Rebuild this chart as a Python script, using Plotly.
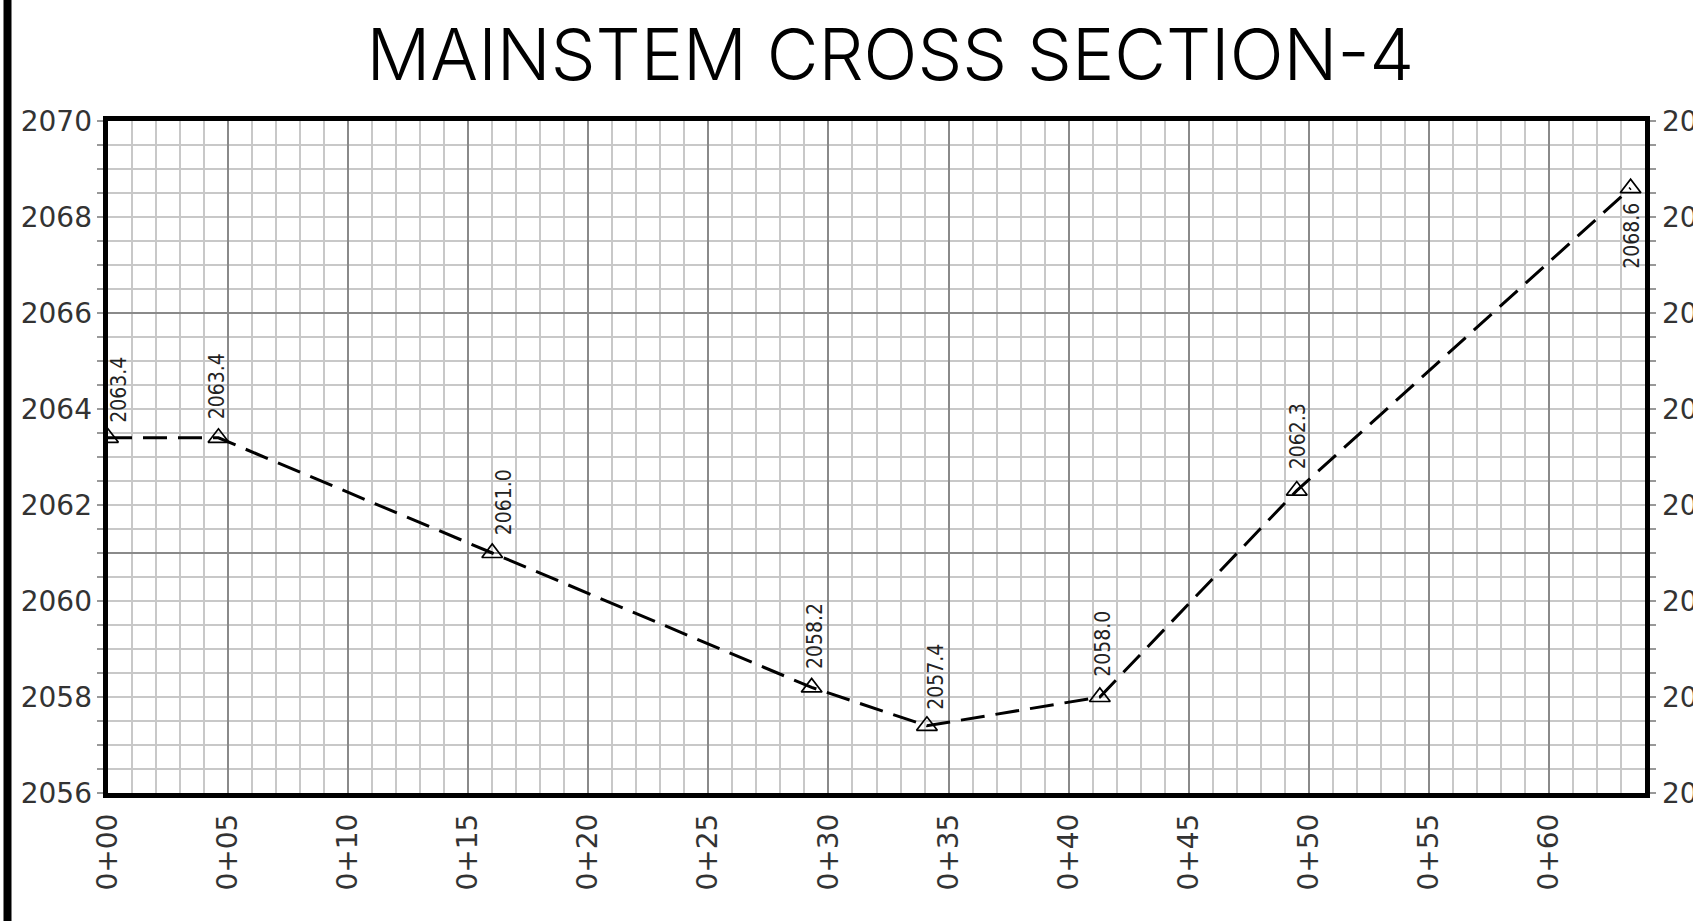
import plotly.graph_objects as go

# ---- data ----
stations = [0.0, 4.6, 16.0, 29.3, 34.1, 41.3, 49.5, 63.4]
elevations = [2063.4, 2063.4, 2061.0, 2058.2, 2057.4, 2058.0, 2062.3, 2068.6]

x_tickvals = list(range(0, 61, 5))
x_ticktext = ["0+%02d" % v for v in x_tickvals]
y_tickvals = list(range(2056, 2071, 2))
y_ticktext = [str(v) for v in y_tickvals]
y_major_grid = [2061, 2066]
X_RANGE = [0, 64]
Y_RANGE = [2056, 2070]

title_text = "MAINSTEM CROSS SECTION-4"

# label placement (pixel offsets, style only)
label_xshift = [11, -2, 12, 4, 9, 3, 1, 2]
label_yshift = [13, 17, 16, 16, 14, 18, 19, -13]

TICKFONT = dict(family="DejaVu Sans, Liberation Sans, sans-serif", size=28, color="#333333")
LABELFONT = dict(family="DejaVu Sans Condensed, Liberation Sans Narrow, DejaVu Sans, sans-serif", size=21, color="#222222")
MINOR_GRID = "#c8c8c8"
MAJOR_GRID = "#8a8a8a"

fig = go.Figure()
fig.add_trace(go.Scatter(
    x=stations, y=elevations, mode="lines+markers",
    line=dict(color="black", width=3, dash="24px,11px"),
    marker=dict(symbol="triangle-up-open", size=18, color="black", line=dict(width=1.7, color="black")),
    showlegend=False, hoverinfo="skip",
))

annotations = []
for x, y, dx, dy in zip(stations, elevations, label_xshift, label_yshift):
    annotations.append(dict(
        x=x, y=y, xref="x", yref="y", text="%.1f" % y, showarrow=False,
        textangle=-90, font=LABELFONT,
        xanchor="center", yanchor="top" if dy < 0 else "bottom",
        xshift=dx, yshift=dy,
    ))

fig.update_layout(
    width=1693, height=921,
    template="none",
    paper_bgcolor="white", plot_bgcolor="white",
    margin=dict(l=108, r=48, t=121, b=128, autoexpand=False),
    title=dict(text=title_text, x=0.509, xref="paper", xanchor="center",
               y=1 - 55 / 921, yref="container", yanchor="middle",
               font=dict(family="Inter, DejaVu Sans Condensed, sans-serif", size=71, color="black", weight=300)),
    annotations=annotations,
    shapes=[dict(type="line", xref="paper", yref="paper", x0=(7.5 - 108) / 1537, x1=(7.5 - 108) / 1537,
                 y0=-0.5, y1=1.5, line=dict(color="black", width=8))],
    # fine grid + frame
    xaxis=dict(
        range=X_RANGE, tickmode="linear", tick0=0, dtick=1, showticklabels=False, ticks="",
        showgrid=True, gridcolor=MINOR_GRID, gridwidth=2,
        showline=True, mirror=True, linecolor="black", linewidth=5,
        zeroline=False, automargin=False,
    ),
    # station labels + major vertical grid
    xaxis2=dict(
        range=X_RANGE, overlaying="x", side="bottom", anchor="y",
        tickvals=x_tickvals, ticktext=x_ticktext, tickangle=-90, tickfont=TICKFONT,
        showgrid=True, gridcolor=MAJOR_GRID, gridwidth=1.5, ticks="",
        showline=False, zeroline=False, automargin=False, ticklabelstandoff=14,
    ),
    yaxis=dict(
        range=Y_RANGE, tickmode="linear", tick0=2056, dtick=0.5, showticklabels=False,
        ticks="outside", ticklen=6, tickcolor="#999999", tickwidth=1.5,
        showgrid=True, gridcolor=MINOR_GRID, gridwidth=2,
        showline=True, mirror="ticks", linecolor="black", linewidth=5,
        zeroline=False, automargin=False,
    ),
    yaxis2=dict(
        range=Y_RANGE, overlaying="y", side="left", tickvals=y_tickvals, ticktext=y_ticktext,
        tickfont=TICKFONT, showgrid=False, zeroline=False, ticks="", showline=False,
        automargin=False, ticklabelstandoff=15,
    ),
    yaxis3=dict(
        range=Y_RANGE, overlaying="y", side="right", tickvals=y_tickvals, ticktext=y_ticktext,
        tickfont=TICKFONT, showgrid=False, zeroline=False, ticks="", showline=False,
        automargin=False, ticklabelstandoff=16,
    ),
    yaxis4=dict(
        range=Y_RANGE, overlaying="y", tickvals=y_major_grid, showticklabels=False,
        showgrid=True, gridcolor=MAJOR_GRID, gridwidth=1.5, zeroline=False, ticks="",
        showline=False, automargin=False,
    ),
)
# empty traces that activate the overlay axes
for xa, ya in [("x2", "y"), ("x", "y2"), ("x", "y3"), ("x", "y4")]:
    fig.add_trace(go.Scatter(x=[None], y=[None], xaxis=xa, yaxis=ya, showlegend=False, hoverinfo="skip"))

fig.write_html("out.html", config={"displayModeBar": False},
               post_script="document.body.style.margin='0';document.body.style.overflow='hidden';")
